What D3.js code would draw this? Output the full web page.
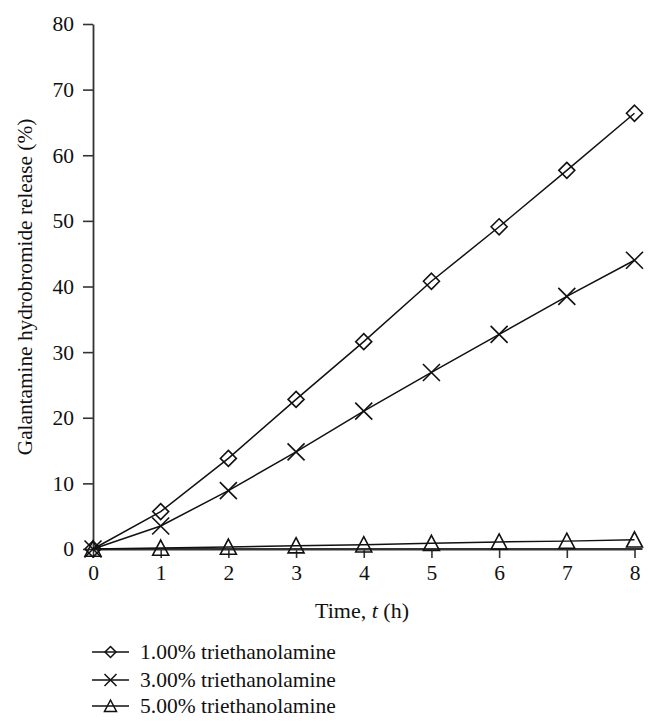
<!DOCTYPE html>
<html><head><meta charset="utf-8">
<script src="https://cdn.jsdelivr.net/npm/d3@7"></script>
<style>body{margin:0;background:#fff}svg{display:block}text{font-family:"Liberation Serif","Times New Roman",serif;fill:#111}</style>
</head><body><svg id="c" width="658" height="727"></svg>
<script>
const times = [0,1,2,3,4,5,6,7,8];
const seriesNames = ["1.00% triethanolamine","3.00% triethanolamine","5.00% triethanolamine"];
const tea1 = [0,5.7,13.8,22.8,31.6,40.8,49.1,57.7,66.4];
const tea3 = [0,3.5,8.9,14.8,21.0,26.9,32.7,38.5,44.0];
const tea5 = [0,0.15,0.3,0.5,0.65,0.87,1.07,1.2,1.4];
const markers = ["diamond","cross","triangle"];
const xTicks = [0,1,2,3,4,5,6,7,8];
const yTicks = [0,10,20,30,40,50,60,70,80];

const svg = d3.select("#c");
const x = d3.scaleLinear().domain([0,8]).range([93,634.5]);
const y = d3.scaleLinear().domain([0,80]).range([549,24]);

const gx = svg.append("g").attr("transform","translate(0,549)")
  .call(d3.axisBottom(x).tickValues(xTicks).tickSize(9).tickSizeOuter(0).tickPadding(7));
const gy = svg.append("g").attr("transform","translate(93,0)")
  .call(d3.axisLeft(y).tickValues(yTicks).tickSize(10).tickSizeOuter(0).tickPadding(9));
[gx,gy].forEach(g=>{
  g.select(".domain").attr("stroke","#333").attr("stroke-width",1.8);
  g.selectAll(".tick line").attr("stroke","#333").attr("stroke-width",1.6);
  g.selectAll(".tick text").attr("font-family","'Liberation Serif',serif").attr("font-size",21.5).attr("fill","#111");
});
svg.append("line").attr("x1",x(0)).attr("x2",x(8)+8).attr("y1",549).attr("y2",549).attr("stroke","#333").attr("stroke-width",1.8);

svg.append("text").attr("transform","translate(32,287) rotate(-90)").attr("text-anchor","middle")
  .attr("font-size",21.3).text("Galantamine hydrobromide release (%)");
const xt = svg.append("text").attr("x",362).attr("y",618).attr("text-anchor","middle").attr("font-size",22);
xt.append("tspan").text("Time, ");
xt.append("tspan").attr("font-style","italic").text("t");
xt.append("tspan").text(" (h)");

function markerPath(type, s){
  const h = s/2;
  if(type==="diamond") return `M0,${-h}L${h},0L0,${h}L${-h},0Z`;
  if(type==="cross") return `M${-h},${-h}L${h},${h}M${-h},${h}L${h},${-h}`;
  return `M0,${-h}L${h},${h*0.9}L${-h},${h*0.9}Z`;
}

const data = [tea1,tea3,tea5];
const line = d3.line().x((d,i)=>x(times[i])).y(d=>y(d));
data.forEach((vals,k)=>{
  svg.append("path").attr("d",line(vals)).attr("fill","none").attr("stroke","#111").attr("stroke-width",1.5);
  const sz = markers[k]==="cross"?17:16;
  svg.append("g").selectAll("path").data(vals).join("path")
    .attr("transform",(d,i)=>`translate(${x(times[i])},${y(d)})`)
    .attr("d",markerPath(markers[k],sz))
    .attr("fill","none").attr("stroke","#111").attr("stroke-width",1.6);
});

const legY = [652,680,706];
seriesNames.forEach((n,k)=>{
  const g = svg.append("g").attr("transform",`translate(0,${legY[k]})`);
  g.append("line").attr("x1",92).attr("x2",129).attr("y1",0).attr("y2",0).attr("stroke","#111").attr("stroke-width",1.5);
  g.append("path").attr("transform","translate(110.5,0)").attr("d",markerPath(markers[k],k===0?11:12))
    .attr("fill","none").attr("stroke","#111").attr("stroke-width",1.5);
  g.append("text").attr("x",140).attr("y",7).attr("font-size",21.5).text(n);
});
</script></body></html>
